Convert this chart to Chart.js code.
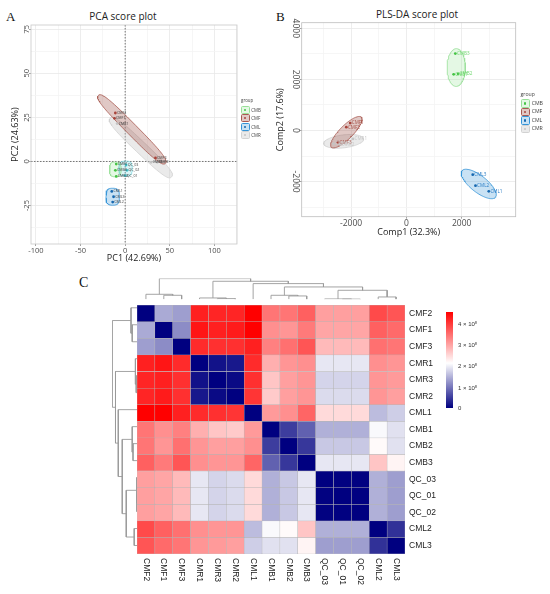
<!DOCTYPE html>
<html>
<head>
<meta charset="utf-8">
<title>PCA / PLS-DA score plots and sample heatmap</title>
<script src="https://cdn.jsdelivr.net/npm/chart.js@4.4.1/dist/chart.umd.min.js"></script>
<style>
  body { margin: 0; background: #fff; }
  #fig { position: relative; width: 550px; height: 594px; overflow: hidden; }
  #fig canvas, #fig .txt, #fig .legend, #fig .cbar { position: absolute; }
  .panel { font-family: "Liberation Serif", serif; color: #111; line-height: 1; }
  .ptitle { font-family: "Open Sans", sans-serif; font-size: 10px; color: #222; line-height: 1;
            transform: translateX(-50%); white-space: nowrap; }
  .legend { font-family: "Open Sans", sans-serif; color: #444; white-space: nowrap; }
  .cbl { position: absolute; font-family: "Liberation Sans", sans-serif; font-size: 6px; color: #333;
         line-height: 8px; white-space: nowrap; }
  .cbl sup { font-size: 4px; vertical-align: 2px; }
</style>
</head>
<body>
<div id="fig">
  <div class="txt panel" style="left:6px;top:10px;font-size:13px">A</div>
  <div class="txt panel" style="left:276px;top:10px;font-size:13px">B</div>
  <div class="txt panel" style="left:79px;top:276px;font-size:14px">C</div>
  <div class="txt ptitle" style="left:123px;top:11px">PCA score plot</div>
  <div class="txt ptitle" style="left:417px;top:9px">PLS-DA score plot</div>
  <canvas id="pca" width="275" height="266" style="left:0;top:0"></canvas>
  <canvas id="pls" width="275" height="240" style="left:275px;top:0"></canvas>
  <canvas id="colTree" width="282" height="26" style="left:130px;top:274px"></canvas>
  <canvas id="rowTree" width="35" height="262" style="left:105px;top:296px"></canvas>
  <canvas id="heat" width="450" height="298" style="left:100px;top:296px"></canvas>
  <div id="pcaLegend" class="legend" style="left:241px;top:95.8px"></div>
  <div id="plsLegend" class="legend" style="left:520.5px;top:90.1px"></div>
  <div id="cbar" class="cbar" style="left:446px;top:312px;width:7px;height:96px"></div>
</div>

<script>
// ---------------- data ----------------
const groupNames = ['CMB', 'CMF', 'CML', 'CMR'];

// PCA scores
const pcaSamples = ['CMB1', 'CMB2', 'CMB3', 'CMF1', 'CMF2', 'CMF3', 'CML1', 'CML2', 'CML3',
                    'CMR1', 'CMR2', 'CMR3', 'QC_01', 'QC_02', 'QC_03'];
const pcaGroups = ['CMB', 'CMB', 'CMB', 'CMF', 'CMF', 'CMF', 'CML', 'CML', 'CML',
                   'CMR', 'CMR', 'CMR', 'QC', 'QC', 'QC'];
const pcaPC1 = [-10, -10, -11, -12, -11, 34, -15, -14, -13, -9, 36, 29, 0, 2, 1];
const pcaPC2 = [-1.5, -8.5, -5, 24.5, 27.5, 2, -17, -23, -20, 21.5, -0.5, -0.5, -8, -5, -2];
const pcaXTicks = [-100, -50, 0, 50, 100];
const pcaYTicks = [-25, 0, 25, 50, 75];
// group ellipses: centre and two half-axes, in score units
const pcaEllGroups = ['CMB', 'CMF', 'CML', 'CMR', 'QC'];
const pcaEllCentre = [[-11, -4.5], [7.5, 18.2], [-14, -20], [17.6, 7.9], [0.5, -4]];
const pcaEllAxisA = [[6.5, 0], [37.5, -19.2], [7.5, 0], [34.4, -16.6], [7.5, 0]];
const pcaEllAxisB = [[0, 4.2], [4.4, 2.2], [0, 4.8], [4.5, 2.4], [0, 4.2]];

// PLS-DA scores
const plsSamples = ['CMB1', 'CMB2', 'CMB3', 'CMF1', 'CMF2', 'CMF3', 'CML1', 'CML2', 'CML3', 'CMR1', 'CMR2', 'CMR3'];
const plsGroups = ['CMB', 'CMB', 'CMB', 'CMF', 'CMF', 'CMF', 'CML', 'CML', 'CML', 'CMR', 'CMR', 'CMR'];
const plsComp1 = [1710, 1870, 1770, -2030, -2170, -2470, 2980, 2500, 2400, -1930, -2390, -2630];
const plsComp2 = [2200, 2220, 3010, 290, 130, -460, -2380, -2160, -1730, -330, -550, -520];
const plsXTicks = [-2000, 0, 2000];
const plsYTicks = [-2000, 0, 2000, 4000];
const plsEllGroups = ['CMB', 'CMF', 'CML', 'CMR'];
const plsEllCentre = [[1803, 2465], [-2170, -66], [2617, -2092], [-2267, -424]];
const plsEllAxisA = [[0, 740], [542, 588], [602, -523], [720, 100]];
const plsEllAxisB = [[331, 0], [170, -185], [199, 243], [-40, 250]];

// heatmap (distance between samples, x 1e8), rows/cols in clustered order
const hmLabels = ['CMF2', 'CMF1', 'CMF3', 'CMR1', 'CMR3', 'CMR2', 'CML1', 'CMB1', 'CMB2', 'CMB3',
                  'QC_03', 'QC_01', 'QC_02', 'CML2', 'CML3'];
const hmValues = [
  [0, 1.4, 1.3, 4.2, 4.15, 4.15, 4.5, 3.4, 3.4, 3.6, 3.0, 3.0, 3.0, 3.8, 3.7],
  [1.4, 0, 1.15, 4.3, 4.2, 4.25, 4.5, 3.15, 3.1, 3.35, 2.95, 2.95, 2.95, 3.6, 3.5],
  [1.3, 1.15, 0, 4.1, 4.05, 4.05, 4.2, 3.3, 3.45, 3.7, 2.75, 2.75, 2.75, 3.45, 3.4],
  [4.2, 4.3, 4.1, 0, 0.15, 0.2, 4.1, 2.85, 3.1, 3.15, 1.9, 1.9, 1.9, 3.15, 3.1],
  [4.15, 4.2, 4.05, 0.15, 0, 0.08, 4.05, 2.65, 3.0, 3.1, 1.75, 1.75, 1.75, 3.1, 3.05],
  [4.15, 4.25, 4.05, 0.2, 0.08, 0, 4.0, 2.6, 3.0, 3.1, 1.8, 1.8, 1.8, 3.1, 3.0],
  [4.5, 4.5, 4.2, 4.1, 4.05, 4.0, 0, 3.05, 3.15, 3.55, 2.45, 2.45, 2.45, 1.55, 1.7],
  [3.4, 3.15, 3.3, 2.85, 2.65, 2.6, 3.05, 0, 0.5, 0.8, 1.45, 1.45, 1.45, 2.05, 1.85],
  [3.4, 3.1, 3.45, 3.1, 3.0, 3.0, 3.15, 0.5, 0, 0.45, 1.65, 1.65, 1.65, 2.15, 1.85],
  [3.6, 3.35, 3.7, 3.15, 3.1, 3.1, 3.55, 0.8, 0.45, 0, 1.9, 1.9, 1.9, 2.65, 2.2],
  [3.0, 2.95, 2.75, 1.9, 1.75, 1.8, 2.45, 1.45, 1.65, 1.9, 0, 0.02, 0.02, 1.45, 1.3],
  [3.0, 2.95, 2.75, 1.9, 1.75, 1.8, 2.45, 1.45, 1.65, 1.9, 0.02, 0, 0.01, 1.45, 1.3],
  [3.0, 2.95, 2.75, 1.9, 1.75, 1.8, 2.45, 1.45, 1.65, 1.9, 0.02, 0.01, 0, 1.45, 1.3],
  [3.8, 3.6, 3.45, 3.15, 3.1, 3.1, 1.55, 2.05, 2.15, 2.65, 1.45, 1.45, 1.45, 0, 0.4],
  [3.7, 3.5, 3.4, 3.1, 3.05, 3.0, 1.7, 1.85, 1.85, 2.2, 1.3, 1.3, 1.3, 0.4, 0]
];
// clustering tree (hclust style: negative = leaf, positive = earlier merge)
const hmMerge = [[-2, -3], [-1, 1], [-5, -6], [-4, 3], [-9, -10], [-8, 5], [-12, -13], [-11, 7],
                 [-14, -15], [8, 9], [6, 10], [-7, 11], [4, 12], [2, 13]];
const hmHeight = [12, 15, 2, 4, 10, 12, 0.5, 1, 7, 27, 37, 47, 54, 62];
const cbTicks = [0, 1, 2, 3, 4];
const cbMid = 2.1;
const cbMax = 4.5;

// ---------------- styles ----------------
const pointCol = { CMB: '#45c445', CMF: '#a8443b', CML: '#1668b0', CMR: '#c4c4c4', QC: '#3fc2cc' };
const lineCol = { CMB: '#98e098', CMF: '#a85a52', CML: '#3494d8', CMR: '#d2d2d2', QC: '#86dbe2' };
const fillCol = { CMB: 'rgba(130,225,130,0.22)', CMF: 'rgba(160,85,75,0.32)', CML: 'rgba(60,150,215,0.28)',
                  CMR: 'rgba(200,200,200,0.38)', QC: 'rgba(110,215,225,0.25)' };
const textCol = { CMB: '#6fd86f', CMF: '#a8544b', CML: '#2a7cc4', CMR: '#c8c8c8' };
const majorGrid = '#e9e9e9';
const minorGrid = '#f4f4f4';

// ---------------- helpers ----------------
function withMinor(major, lo, hi) {
  const step = major[1] - major[0];
  const vals = major.slice();
  major.forEach(v => vals.push(v - step / 2));
  vals.push(major[major.length - 1] + step / 2);
  return vals.filter(v => v >= lo && v <= hi).sort((a, b) => a - b).map(v => ({ value: v }));
}

// outline of a group ellipse (n > 2 gives the rounder, capsule-like ends)
function ellipseOutline(c, a, b, n) {
  const pts = [];
  for (let k = 0; k <= 96; k++) {
    const t = 2 * Math.PI * k / 96;
    const ct = Math.cos(t), st = Math.sin(t);
    const p = Math.sign(ct) * Math.pow(Math.abs(ct), 2 / n);
    const q = Math.sign(st) * Math.pow(Math.abs(st), 2 / n);
    pts.push({ x: c[0] + a[0] * p + b[0] * q, y: c[1] + a[1] * p + b[1] * q });
  }
  return pts;
}

function scoreDatasets(names, groups, xs, ys, ellGroups, ellC, ellA, ellB, shape, labelByGroup) {
  const sets = [];
  ellGroups.forEach((g, i) => {
    sets.push({
      data: ellipseOutline(ellC[i], ellA[i], ellB[i], shape),
      showLine: true, fill: 'shape', tension: 0, pointRadius: 0,
      borderColor: lineCol[g], borderWidth: 0.8, backgroundColor: fillCol[g], order: 2
    });
  });
  ellGroups.forEach(g => {
    const idx = groups.map((gg, i) => gg === g ? i : -1).filter(i => i >= 0);
    sets.push({
      data: idx.map(i => ({ x: xs[i], y: ys[i] })),
      names: idx.map(i => names[i]),
      textColour: labelByGroup ? textCol[g] : '#3a3a3a',
      pointRadius: 1.4, pointBorderWidth: 0, backgroundColor: pointCol[g], order: 1
    });
  });
  return sets;
}

// ---------------- plugins ----------------
const panelBox = {
  id: 'panelBox',
  afterDraw(chart, args, o) {
    const { ctx, chartArea: a } = chart;
    ctx.save();
    ctx.strokeStyle = o.colour;
    ctx.lineWidth = 0.8;
    ctx.strokeRect(a.left, a.top, a.right - a.left, a.bottom - a.top);
    ctx.restore();
  }
};

const zeroLines = {
  id: 'zeroLines',
  beforeDatasetsDraw(chart, args, o) {
    if (!o.show) return;
    const { ctx, chartArea: a, scales } = chart;
    const x0 = scales.x.getPixelForValue(0), y0 = scales.y.getPixelForValue(0);
    ctx.save();
    ctx.strokeStyle = '#555';
    ctx.lineWidth = 0.8;
    ctx.setLineDash([1.5, 1.5]);
    ctx.beginPath();
    ctx.moveTo(x0, a.top); ctx.lineTo(x0, a.bottom);
    ctx.moveTo(a.left, y0); ctx.lineTo(a.right, y0);
    ctx.stroke();
    ctx.restore();
  }
};

const rotatedYTicks = {
  id: 'rotatedYTicks',
  afterDraw(chart, args, o) {
    const { ctx, chartArea: a } = chart;
    const s = chart.scales.y;
    ctx.save();
    ctx.font = o.font;
    ctx.fillStyle = o.colour;
    ctx.textAlign = 'center';
    ctx.textBaseline = 'middle';
    o.values.forEach(v => {
      ctx.save();
      ctx.translate(a.left - o.offset, s.getPixelForValue(v));
      ctx.rotate(o.angle);
      ctx.fillText(String(v), 0, 0);
      ctx.restore();
    });
    ctx.restore();
  }
};

const sampleLabels = {
  id: 'sampleLabels',
  afterDatasetsDraw(chart, args, o) {
    const ctx = chart.ctx;
    ctx.save();
    ctx.font = o.font;
    ctx.textAlign = 'left';
    ctx.textBaseline = 'middle';
    chart.data.datasets.forEach((ds, di) => {
      if (!ds.names) return;
      ctx.fillStyle = ds.textColour;
      chart.getDatasetMeta(di).data.forEach((pt, i) => {
        ctx.fillText(ds.names[i], pt.x + o.dx, pt.y + o.dy);
      });
    });
    ctx.restore();
  }
};

function scoreChart(id, s) {
  const isMajor = (list, c) => c.tick && list.includes(c.tick.value);
  return new Chart(document.getElementById(id), {
    type: 'scatter',
    data: { datasets: s.datasets },
    options: {
      responsive: false, animation: false, events: [],
      layout: { padding: s.padding },
      plugins: {
        legend: { display: false }, tooltip: { enabled: false },
        panelBox: { colour: s.boxColour },
        zeroLines: { show: s.zeroLines },
        rotatedYTicks: { values: s.yTicks, font: s.tickSize + 'px "Open Sans"', colour: '#4d4d4d',
                         offset: s.yLabelOffset, angle: s.yLabelAngle },
        sampleLabels: { font: s.labelSize + 'px "Open Sans"', dx: 1.6, dy: 0 }
      },
      scales: {
        x: {
          min: s.xMin, max: s.xMax,
          border: { display: false },
          afterBuildTicks: sc => { sc.ticks = withMinor(s.xTicks, sc.min, sc.max); },
          afterFit: sc => { sc.height = s.xAxisHeight; },
          grid: {
            color: c => isMajor(s.xTicks, c) ? majorGrid : minorGrid, lineWidth: 0.8, tickLength: 2,
            tickColor: c => isMajor(s.xTicks, c) ? '#8c8c8c' : 'rgba(0,0,0,0)'
          },
          ticks: {
            callback: v => s.xTicks.includes(v) ? String(v) : '',
            font: { family: 'Open Sans', size: s.tickSize }, color: '#4d4d4d',
            padding: 0, maxRotation: 0, autoSkip: false
          },
          title: { display: true, text: s.xTitle, font: { family: 'Open Sans', size: 9 }, color: '#222',
                   padding: { top: 0, bottom: s.xTitlePad } }
        },
        y: {
          min: s.yMin, max: s.yMax,
          border: { display: false },
          afterBuildTicks: sc => { sc.ticks = withMinor(s.yTicks, sc.min, sc.max); },
          afterFit: sc => { sc.width = s.yAxisWidth; },
          grid: {
            color: c => isMajor(s.yTicks, c) ? majorGrid : minorGrid, lineWidth: 0.8, tickLength: 2,
            tickColor: c => isMajor(s.yTicks, c) ? '#8c8c8c' : 'rgba(0,0,0,0)'
          },
          ticks: { display: false },
          title: { display: true, text: s.yTitle, font: { family: 'Open Sans', size: 9 }, color: '#222',
                   padding: { top: s.yTitlePad, bottom: 0 } }
        }
      }
    },
    plugins: [panelBox, zeroLines, rotatedYTicks, sampleLabels]
  });
}

// ---------------- A: PCA ----------------
scoreChart('pca', {
  datasets: scoreDatasets(pcaSamples, pcaGroups, pcaPC1, pcaPC2, pcaEllGroups,
                          pcaEllCentre, pcaEllAxisA, pcaEllAxisB, 3, false),
  xMin: -105.6, xMax: 125.4, yMin: -46.8, yMax: 77.4,
  xTicks: pcaXTicks, yTicks: pcaYTicks,
  xTitle: 'PC1 (42.69%)', yTitle: 'PC2 (24.63%)',
  padding: { top: 25, right: 38, left: 0, bottom: 0 },
  xAxisHeight: 22, yAxisWidth: 31, xTitlePad: 2.2, yTitlePad: 9.9,
  tickSize: 7.5, labelSize: 3.6, yLabelOffset: 4, yLabelAngle: -Math.PI / 2,
  boxColour: '#c9c9c9', zeroLines: true
});

// ---------------- B: PLS-DA ----------------
scoreChart('pls', {
  datasets: scoreDatasets(plsSamples, plsGroups, plsComp1, plsComp2, plsEllGroups,
                          plsEllCentre, plsEllAxisA, plsEllAxisB, 2, true),
  xMin: -3783, xMax: 3953, yMin: -3373, yMax: 4220,
  xTicks: plsXTicks, yTicks: plsYTicks,
  xTitle: 'Comp1 (32.3%)', yTitle: 'Comp2 (17.6%)',
  padding: { top: 22.7, right: 34.3, left: 0, bottom: 0 },
  xAxisHeight: 23.3, yAxisWidth: 26.7, xTitlePad: 2.6, yTitlePad: 0,
  tickSize: 8.5, labelSize: 4.6, yLabelOffset: 6, yLabelAngle: Math.PI / 2,
  boxColour: '#bdbdbd', zeroLines: false
});

// ---------------- legends ----------------
function buildLegend(el, o) {
  let html = `<div style="font-size:${o.font}px;line-height:${o.row}px;height:${o.head}px">group</div>`;
  groupNames.forEach(g => {
    html += `<div style="display:flex;align-items:center;height:${o.row}px;font-size:${o.font}px;line-height:1">` +
      `<span style="position:relative;box-sizing:border-box;width:${o.key}px;height:${o.key - 0.6}px;` +
      `border:0.8px solid ${lineCol[g]};border-radius:1.5px;background:${fillCol[g]};margin-right:${o.gap}px">` +
      `<span style="position:absolute;left:50%;top:50%;width:${o.dot}px;height:${o.dot}px;` +
      `margin:-${o.dot / 2}px 0 0 -${o.dot / 2}px;border-radius:50%;background:${pointCol[g]}"></span></span>${g}</div>`;
  });
  el.innerHTML = html;
}
buildLegend(document.getElementById('pcaLegend'), { font: 4.4, row: 8.4, head: 10, key: 8.7, gap: 1.6, dot: 2.2 });
buildLegend(document.getElementById('plsLegend'), { font: 5.2, row: 8.5, head: 9, key: 9, gap: 2.2, dot: 2.4 });

// ---------------- C: heatmap ----------------
function heatColour(v) {
  const lo = [0, 0, 128], mid = [255, 255, 255], hi = [255, 0, 0];
  let a, b, t;
  if (v <= cbMid) { a = lo; b = mid; t = v / cbMid; }
  else { a = mid; b = hi; t = Math.min(1, (v - cbMid) / (cbMax - cbMid)); }
  return 'rgb(' + a.map((c, i) => Math.round(c + (b[i] - c) * t)).join(',') + ')';
}

const colLabelPlugin = {
  id: 'colLabels',
  afterDraw(chart) {
    const { ctx, chartArea: a } = chart;
    const s = chart.scales.x;
    ctx.save();
    ctx.font = '8.5px "Liberation Sans"';
    ctx.fillStyle = '#222';
    ctx.textAlign = 'left';
    ctx.textBaseline = 'middle';
    hmLabels.forEach((l, i) => {
      ctx.save();
      ctx.translate(s.getPixelForValue(i), a.bottom + 4);
      ctx.rotate(Math.PI / 2);
      ctx.fillText(l, 0, 0);
      ctx.restore();
    });
    ctx.restore();
  }
};

new Chart(document.getElementById('heat'), {
  type: 'bar',
  data: {
    labels: hmLabels,
    datasets: hmLabels.map((row, i) => ({
      label: row,
      data: hmValues[i].map(() => [i, i + 1]),
      backgroundColor: hmValues[i].map(heatColour),
      borderColor: 'rgba(175,175,175,0.85)', borderWidth: 0.5, borderSkipped: false,
      barPercentage: 1, categoryPercentage: 1, grouped: false
    }))
  },
  options: {
    responsive: false, animation: false, events: [],
    layout: { padding: { left: 37, top: 3.3, right: 105, bottom: 40 } },
    plugins: { legend: { display: false }, tooltip: { enabled: false } },
    scales: {
      x: {
        ticks: { display: false }, grid: { display: false, drawTicks: false }, border: { display: false },
        afterFit: s => { s.height = 0; }
      },
      y: {
        position: 'right', min: 0, max: 15, reverse: true,
        grid: { display: false, drawTicks: false }, border: { display: false },
        afterBuildTicks: s => { s.ticks = hmLabels.map((_, i) => ({ value: i + 0.5 })); },
        afterFit: s => { s.width = 40; },
        ticks: { callback: (v, i) => hmLabels[i], font: { family: 'Liberation Sans', size: 8.5 },
                 color: '#222', padding: 4, autoSkip: false }
      }
    }
  },
  plugins: [colLabelPlugin]
});

// dendrograms
function treeSegments(merge, height) {
  const pos = [], ht = [], segs = [];
  const node = k => k < 0 ? { p: -k - 1, h: 0 } : { p: pos[k - 1], h: ht[k - 1] };
  merge.forEach((m, i) => {
    const a = node(m[0]), b = node(m[1]), h = height[i];
    segs.push({ p: a.p, h: a.h }, { p: a.p, h: h }, { p: b.p, h: h }, { p: b.p, h: b.h }, null);
    pos.push((a.p + b.p) / 2);
    ht.push(h);
  });
  return segs;
}
const segs = treeSegments(hmMerge, hmHeight);
const treeRoot = hmHeight[hmHeight.length - 1];

function treeChart(id, points, padding, xScale, yScale) {
  new Chart(document.getElementById(id), {
    type: 'scatter',
    data: { datasets: [{ data: points, showLine: true, spanGaps: false, borderColor: '#9a9a9a',
                         borderWidth: 0.9, pointRadius: 0, tension: 0 }] },
    options: {
      responsive: false, animation: false, events: [],
      layout: { padding: padding },
      plugins: { legend: { display: false }, tooltip: { enabled: false } },
      scales: { x: Object.assign({ display: false }, xScale), y: Object.assign({ display: false }, yScale) }
    }
  });
}
treeChart('colTree', segs.map(s => s ? { x: s.p, y: s.h } : { x: null, y: null }),
          { left: 7, right: 7, top: 4.6, bottom: 0.7 },
          { min: -0.5, max: hmLabels.length - 0.5 }, { min: 0, max: treeRoot });
treeChart('rowTree', segs.map(s => s ? { x: s.h, y: s.p } : { x: null, y: null }),
          { left: 7.3, right: 3, top: 3.3, bottom: 4 },
          { min: 0, max: treeRoot, reverse: true }, { min: -0.5, max: hmLabels.length - 0.5, reverse: true });

// colour bar
(function () {
  const bar = document.getElementById('cbar');
  const midPct = (cbMid / cbMax * 100).toFixed(1);
  bar.style.background = `linear-gradient(to top, ${heatColour(0)} 0%, ${heatColour(cbMid)} ${midPct}%, ${heatColour(cbMax)} 100%)`;
  const fig = document.getElementById('fig');
  cbTicks.forEach(v => {
    const d = document.createElement('div');
    d.className = 'cbl';
    d.style.left = '458px';
    d.style.top = (312 + 96 - v / cbMax * 96 - 4) + 'px';
    d.innerHTML = v === 0 ? '0' : `${v} &times; 10<sup>8</sup>`;
    fig.appendChild(d);
  });
})();
</script>
</body>
</html>
